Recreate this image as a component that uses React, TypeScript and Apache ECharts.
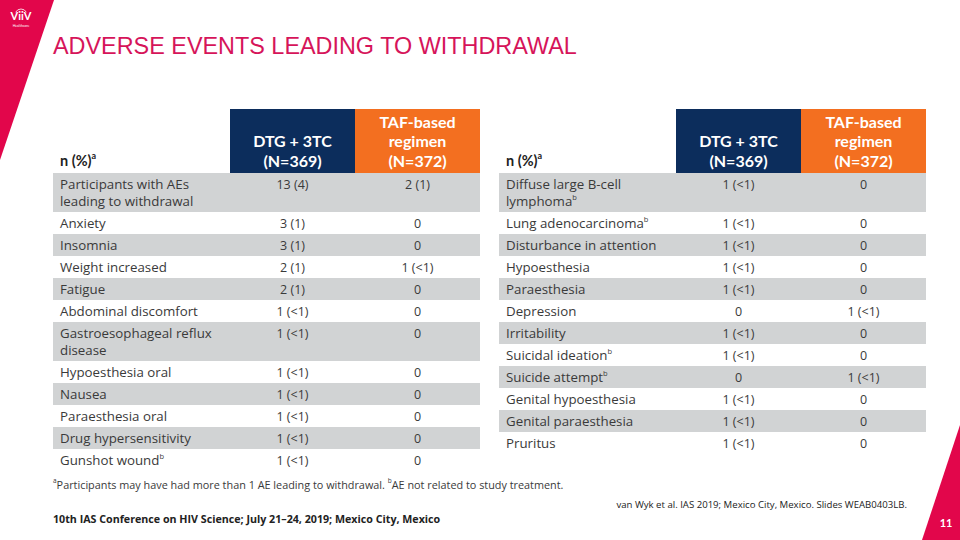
import React, { useEffect, useRef } from "react";
import * as echarts from "echarts";

const title = "ADVERSE EVENTS LEADING TO WITHDRAWAL";
const headerLabel = "n (%)";
const dtgHeader = ["DTG + 3TC", "(N=369)"];
const tafHeader = ["TAF-based", "regimen", "(N=372)"];

const leftLabels = [
  "Participants with AEs\nleading to withdrawal",
  "Anxiety",
  "Insomnia",
  "Weight increased",
  "Fatigue",
  "Abdominal discomfort",
  "Gastroesophageal reflux\ndisease",
  "Hypoesthesia oral",
  "Nausea",
  "Paraesthesia oral",
  "Drug hypersensitivity",
  "Gunshot wound",
];
const leftMarks = ["", "", "", "", "", "", "", "", "", "", "", "b"];
const leftDTG = ["13 (4)", "3 (1)", "3 (1)", "2 (1)", "2 (1)", "1 (<1)", "1 (<1)", "1 (<1)", "1 (<1)", "1 (<1)", "1 (<1)", "1 (<1)"];
const leftTAF = ["2 (1)", "0", "0", "1 (<1)", "0", "0", "0", "0", "0", "0", "0", "0"];

const rightLabels = [
  "Diffuse large B-cell\nlymphoma",
  "Lung adenocarcinoma",
  "Disturbance in attention",
  "Hypoesthesia",
  "Paraesthesia",
  "Depression",
  "Irritability",
  "Suicidal ideation",
  "Suicide attempt",
  "Genital hypoesthesia",
  "Genital paraesthesia",
  "Pruritus",
];
const rightMarks = ["b", "b", "", "", "", "", "", "b", "b", "", "", ""];
const rightDTG = ["1 (<1)", "1 (<1)", "1 (<1)", "1 (<1)", "1 (<1)", "0", "1 (<1)", "1 (<1)", "0", "1 (<1)", "1 (<1)", "1 (<1)"];
const rightTAF = ["0", "0", "0", "0", "0", "1 (<1)", "0", "0", "1 (<1)", "0", "0", "0"];

const footnoteA = "Participants may have had more than 1 AE leading to withdrawal. ";
const footnoteB = "AE not related to study treatment.";
const conference = "10th IAS Conference on HIV Science; July 21–24, 2019; Mexico City, Mexico";
const reference = "van Wyk et al. IAS 2019; Mexico City, Mexico. Slides WEAB0403LB.";
const pageNumber = "11";

const PINK = "#E2064B";
const TITLE_PINK = "#D6145A";
const NAVY = "#0C2D5C";
const ORANGE = "#F36F20";
const GRAY = "#D1D3D4";
const TEXT = "#3A3A3A";
const FONT = "'Open Sans', Lato, sans-serif";
const HFONT = "Lato, 'Open Sans', sans-serif";

const supRich = {
  m: { fontSize: 13.3, fontFamily: FONT, fill: TEXT, lineHeight: 16 },
  s: { fontSize: 7.5, fontFamily: FONT, fill: TEXT, lineHeight: 9, verticalAlign: "top" },
};

function buildTable(x0: number, labels: string[], marks: string[], dtg: string[], taf: string[]) {
  const els: any[] = [];
  const labelX = x0 + 7;
  const dtgL = x0 + 177;
  const tafL = x0 + 302;
  const right = x0 + 427;
  const colW = 125;
  const headTop = 109;
  const bodyTop = 173;
  const lineGap = 16.5;

  els.push({ type: "rect", shape: { x: dtgL, y: headTop, width: colW, height: bodyTop - headTop }, style: { fill: NAVY } });
  els.push({ type: "rect", shape: { x: tafL, y: headTop, width: right - tafL, height: bodyTop - headTop }, style: { fill: ORANGE } });
  els.push({
    type: "text",
    x: labelX,
    y: 160,
    style: {
      text: "{h|" + headerLabel + "}{hs|a}",
      rich: {
        h: { fontSize: 14.5, fontWeight: "bold", fontFamily: HFONT, fill: "#222", lineHeight: 18 },
        hs: { fontSize: 9, fontWeight: "bold", fontFamily: HFONT, fill: "#222", lineHeight: 11, verticalAlign: "top" },
      },
      verticalAlign: "middle",
      align: "left",
    },
  });
  els.push({
    type: "text",
    x: dtgL + colW / 2,
    y: 170,
    style: { text: dtgHeader.join("\n"), fontSize: 16, fontWeight: "bold", fontFamily: HFONT, fill: "#fff", align: "center", verticalAlign: "bottom", lineHeight: 19.5 },
  });
  els.push({
    type: "text",
    x: (tafL + right) / 2,
    y: 170,
    style: { text: tafHeader.join("\n"), fontSize: 16, fontWeight: "bold", fontFamily: HFONT, fill: "#fff", align: "center", verticalAlign: "bottom", lineHeight: 19.5 },
  });

  let y = bodyTop;
  labels.forEach((lab, i) => {
    const lines = lab.split("\n");
    const h = 22 + 17 * (lines.length - 1);
    if (i % 2 === 0) {
      els.push({ type: "rect", shape: { x: x0, y, width: right - x0, height: h }, style: { fill: GRAY } });
    }
    lines.forEach((l, k) => {
      const txt = "{m|" + l + "}" + (k === lines.length - 1 && marks[i] ? "{s|" + marks[i] + "}" : "");
      els.push({ type: "text", x: labelX, y: y + 11 + k * lineGap, style: { text: txt, rich: supRich, align: "left", verticalAlign: "middle" } });
    });
    els.push({ type: "text", x: dtgL + colW / 2, y: y + 11, style: { text: dtg[i], fontSize: 12.5, fontFamily: FONT, fill: TEXT, align: "center", verticalAlign: "middle", lineHeight: 16 } });
    els.push({ type: "text", x: (tafL + right) / 2, y: y + 11, style: { text: taf[i], fontSize: 12.5, fontFamily: FONT, fill: TEXT, align: "center", verticalAlign: "middle", lineHeight: 16 } });
    y += h;
  });
  return els;
}

export default function App() {
  const ref = useRef<HTMLDivElement>(null);
  useEffect(() => {
    if (!ref.current) return;
    const chart = echarts.init(ref.current, undefined, { renderer: "svg" });
    const elements: any[] = [
      { type: "rect", shape: { x: 0, y: 0, width: 960, height: 540 }, style: { fill: "#fff" } },
      { type: "polygon", shape: { points: [[0, 0], [54, 0], [0, 160]] }, style: { fill: PINK } },
      { type: "polygon", shape: { points: [[960, 425], [960, 540], [922, 540]] }, style: { fill: PINK } },
      { type: "arc", shape: { cx: 21, cy: 15, r: 6, startAngle: Math.PI * 1.15, endAngle: Math.PI * 1.85 }, style: { stroke: "#fff", lineWidth: 0.8, fill: "none" } },
      { type: "text", x: 21, y: 15, style: { text: "ViiV", fontSize: 11, fontWeight: "bold", fontFamily: HFONT, fill: "#fff", align: "center", verticalAlign: "middle", lineHeight: 11 } },
      { type: "text", x: 21, y: 26, style: { text: "Healthcare", fontSize: 3.5, fontFamily: HFONT, fill: "#fff", align: "center", verticalAlign: "middle", lineHeight: 4 } },
      { type: "text", x: 53, y: 46, style: { text: title, fontSize: 23.4, fontFamily: "'Liberation Sans', Arial, sans-serif", fill: TITLE_PINK, align: "left", verticalAlign: "middle" } },
      ...buildTable(53, leftLabels, leftMarks, leftDTG, leftTAF),
      ...buildTable(499, rightLabels, rightMarks, rightDTG, rightTAF),
      {
        type: "text",
        x: 53,
        y: 484,
        style: {
          text: "{s|a}{m|" + footnoteA + "}{s|b}{m|" + footnoteB + "}",
          rich: {
            m: { fontSize: 10.85, fontFamily: FONT, fill: TEXT, lineHeight: 14 },
            s: { fontSize: 6.5, fontFamily: FONT, fill: TEXT, lineHeight: 8, verticalAlign: "top" },
          },
          align: "left",
          verticalAlign: "middle",
        },
      },
      { type: "text", x: 53, y: 519, style: { text: conference, fontSize: 10.7, fontWeight: "bold", fontFamily: FONT, fill: "#222", align: "left", verticalAlign: "middle" } },
      { type: "text", x: 907, y: 504, style: { text: reference, fontSize: 9.6, fontFamily: FONT, fill: "#222", align: "right", verticalAlign: "middle" } },
      { type: "text", x: 946, y: 522, style: { text: pageNumber, fontSize: 11, fontWeight: "bold", fontFamily: HFONT, fill: "#fff", align: "center", verticalAlign: "middle" } },
    ];
    chart.setOption({ animation: false, graphic: { elements } });
    return () => chart.dispose();
  }, []);
  return <div ref={ref} style={{ width: 960, height: 540, position: "absolute", left: 0, top: 0 }} />;
}
